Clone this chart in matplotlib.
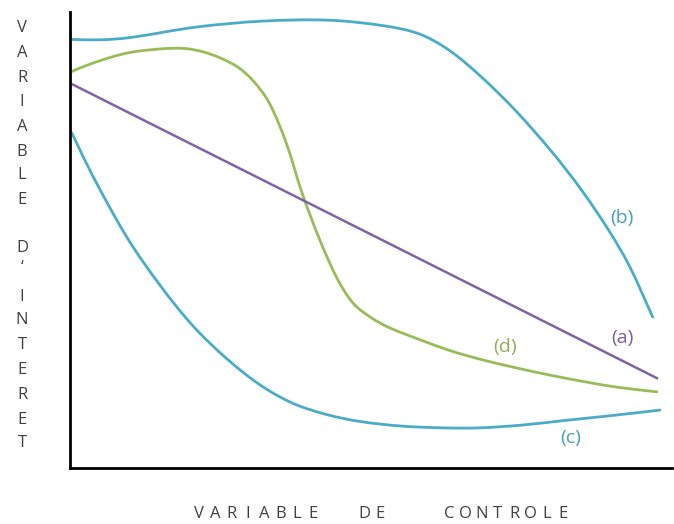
import numpy as np
import matplotlib.pyplot as plt
from matplotlib.path import Path
from matplotlib.patches import PathPatch

# valeurs (echelle 0-100 sur chaque axe)
x_b = [0, 5, 10, 21, 32, 43, 52, 58, 63, 68.3, 74, 80, 85, 89.5, 93, 96.8]
y_b = [94.0, 93.9, 94.4, 96.7, 98.0, 98.2, 97.0, 95.2, 91.6, 85.8, 78.4, 69.4, 60.9, 52.1, 44.1, 33.1]

x_d = [0, 3.8, 9.5, 15, 19, 22, 25, 28, 30.5, 33.2, 36, 38.5, 41.5, 44.4, 47, 50, 53, 58, 63, 68, 74, 80, 86, 91, 97.5]
y_d = [86.8, 88.8, 91.0, 91.9, 92.0, 91.3, 89.9, 87.8, 84.8, 79.8, 71.0, 60.5, 50.0, 41.5, 36.2, 33.0, 30.8, 28.2, 25.8, 23.9, 22.0, 20.3, 18.8, 17.7, 16.7]

x_a = [0, 97.5]
y_a = [84.4, 19.7]

x_c = [0.3, 3.8, 9.5, 15, 20.4, 26.1, 31.6, 37, 42.7, 48.2, 55, 62, 68, 75, 82, 90, 98]
y_c = [73.5, 64.0, 50.5, 40.0, 31.2, 23.9, 18.2, 14.2, 11.7, 10.2, 9.2, 8.8, 8.8, 9.4, 10.4, 11.5, 12.7]

labels = ["(a)", "(b)", "(c)", "(d)"]
label_x = [91.7, 91.7, 83.1, 72.3]
label_y = [28.5, 54.8, 6.6, 26.5]

ylab_letters = list("VARIABLE") + ["D", "\u2018"] + list("INTERET")
ylab_pos = [28, 53, 78, 102, 127, 152, 175, 200, 248, 268, 297, 320, 345, 370, 395, 420, 443]

xlab_words = ["VARIABLE", "DE", "CONTROLE"]
xlab_start = [199, 364, 449]

teal = "#4bacc6"
green = "#9bbb59"
purple = "#8064a2"
grey = "#404040"


def smooth_path(x, y):
    # courbe lisse passant par les points (Hermite en x -> Bezier)
    x = np.asarray(x, float)
    y = np.asarray(y, float)
    n = len(x)
    m = np.zeros(n)
    m[0] = (y[1] - y[0]) / (x[1] - x[0])
    m[-1] = (y[-1] - y[-2]) / (x[-1] - x[-2])
    for i in range(1, n - 1):
        m[i] = (y[i + 1] - y[i - 1]) / (x[i + 1] - x[i - 1])
    verts = [(x[0], y[0])]
    codes = [Path.MOVETO]
    for i in range(n - 1):
        h = (x[i + 1] - x[i]) / 3
        verts += [(x[i] + h, y[i] + m[i] * h),
                  (x[i + 1] - h, y[i + 1] - m[i + 1] * h),
                  (x[i + 1], y[i + 1])]
        codes += [Path.CURVE4] * 3
    return Path(verts, codes)


fig = plt.figure(figsize=(6.74, 5.24), dpi=100)
ax = fig.add_axes([70 / 674, 56 / 524, 602 / 674, 456 / 524])

for xs, ys, c in [(x_b, y_b, teal), (x_d, y_d, green), (x_c, y_c, teal)]:
    ax.add_patch(PathPatch(smooth_path(xs, ys), fill=False, edgecolor=c, lw=2,
                           capstyle="round", joinstyle="round"))
ax.plot(x_a, y_a, color=purple, lw=1.8)

colors = ["#7a5f9c", "#45a0b8", "#45a0b8", "#93ad58"]
for t, lx, ly, c in zip(labels, label_x, label_y, colors):
    ax.text(lx, ly, t, color=c, fontsize=14, family="Open Sans", ha="center", va="center")

ax.set_xlim(0, 100)
ax.set_ylim(0, 100)
ax.set_xticks([])
ax.set_yticks([])
ax.spines["top"].set_visible(False)
ax.spines["right"].set_visible(False)
ax.spines["left"].set_linewidth(2)
ax.spines["bottom"].set_linewidth(2)

# titre vertical, une lettre par ligne
for ch, py in zip(ylab_letters, ylab_pos):
    fig.text(22 / 674, 1 - py / 524, ch, fontsize=12, family="Open Sans", color=grey,
             ha="center", va="center")

# titre horizontal, lettres espacees
for word, x0 in zip(xlab_words, xlab_start):
    for i, ch in enumerate(word):
        fig.text((x0 + 16.3 * i) / 674, 1 - 514 / 524, ch, fontsize=12, family="Open Sans",
                 color=grey, ha="center", va="center")

fig.savefig("out.png", dpi=100)
